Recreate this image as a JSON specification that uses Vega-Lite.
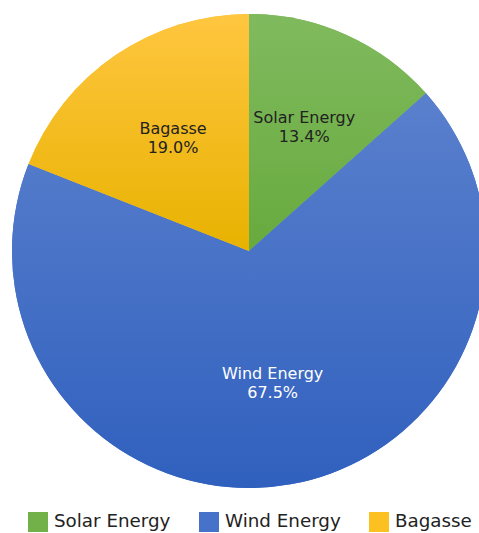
{
  "$schema": "https://vega.github.io/schema/vega-lite/v6.json",
  "width": 498,
  "height": 502,
  "padding": {"left": 0, "top": 0, "right": 0, "bottom": 31},
  "autosize": {"type": "none"},
  "background": "white",
  "data": {"values": [
    {"source": "Solar Energy", "value": 13.4, "order": 1},
    {"source": "Wind Energy", "value": 67.5, "order": 2},
    {"source": "Bagasse", "value": 19.0, "order": 3}
  ]},
  "transform": [
    {"calculate": "[datum.source, format(datum.value, '.1f') + '%']", "as": "label"}
  ],
  "encoding": {
    "theta": {"field": "value", "type": "quantitative", "stack": true},
    "order": {"field": "order", "type": "quantitative"}
  },
  "layer": [
    {
      "mark": {"type": "arc", "outerRadius": 237, "stroke": null},
      "encoding": {
        "color": {
          "field": "source", "type": "nominal",
          "scale": {"domain": ["Solar Energy", "Wind Energy", "Bagasse"], "range": ["#72b04a", "#4673c9", "#fcc121"]},
          "legend": {
            "title": null,
            "orient": "none",
            "legendX": 28,
            "legendY": 512,
            "direction": "horizontal",
            "symbolType": "square",
            "symbolSize": 400,
            "symbolStrokeWidth": 0,
            "labelFont": "DejaVu Sans",
            "labelFontSize": 18.3,
            "labelColor": "#222222",
            "labelOffset": 6,
            "columnPadding": 28
          }
        }
      }
    },
    {
      "mark": {"type": "arc", "outerRadius": 237, "stroke": null},
      "encoding": {
        "fill": {
          "condition": [
            {"test": "datum.source === 'Solar Energy'", "value": {"gradient": "linear", "x1": 0, "y1": 0, "x2": 0, "y2": 1, "stops": [{"offset": 0, "color": "#80ba5e"}, {"offset": 1, "color": "#68aa3e"}]}},
            {"test": "datum.source === 'Wind Energy'", "value": {"gradient": "linear", "x1": 0, "y1": 0, "x2": 0, "y2": 1, "stops": [{"offset": 0, "color": "#5a80cd"}, {"offset": 1, "color": "#3060be"}]}}
          ],
          "value": {"gradient": "linear", "x1": 0, "y1": 0, "x2": 0, "y2": 1, "stops": [{"offset": 0, "color": "#ffc640"}, {"offset": 1, "color": "#e8b200"}]}
        }
      }
    },
    {
      "mark": {"type": "text", "radius": 135, "dy": -10, "font": "DejaVu Sans", "fontSize": 16, "lineHeight": 19, "align": "center", "baseline": "middle"},
      "encoding": {
        "text": {"field": "label"},
        "color": {
          "condition": {"test": "datum.source === 'Wind Energy'", "value": "#ffffff"},
          "value": "#222222"
        }
      }
    }
  ]
}
